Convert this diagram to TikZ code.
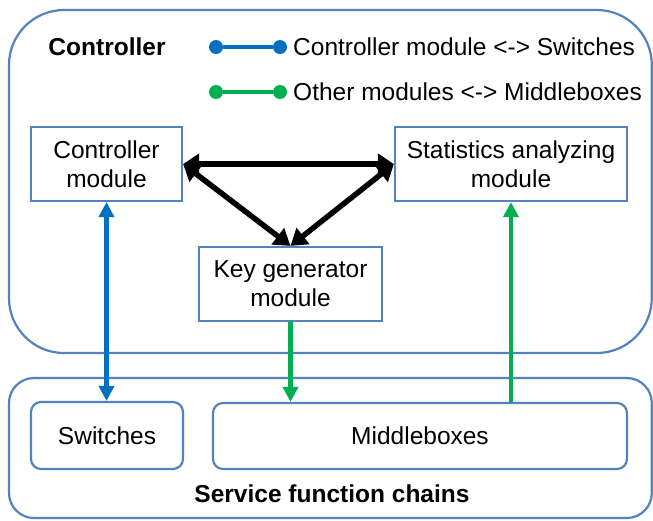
\documentclass[tikz,border=0pt]{standalone}
\usepackage{fontspec}
\setmainfont{Liberation Sans}
\usetikzlibrary{arrows.meta}
\definecolor{frameblue}{RGB}{84,130,190}
\definecolor{linkblue}{RGB}{0,112,192}
\definecolor{linkgreen}{RGB}{0,176,80}
\tikzset{
  txt/.style={font=\fontsize{24.5}{29}\selectfont, align=center, inner sep=0pt},
  module/.style={txt, draw=frameblue, line width=2.2pt, fill=white},
  group/.style={draw=frameblue, line width=2.2pt},
  device/.style={module, rounded corners=10pt},
  bluelink/.style={draw=linkblue, line width=4.5pt, -{Triangle[length=15pt,width=15pt]}},
  greenlink/.style={draw=linkgreen, line width=4.5pt, -{Triangle[length=15pt,width=15pt]}},
  blacklink/.style={draw=black, line width=5.5pt, {Triangle[length=16pt,width=20pt]}-{Triangle[length=16pt,width=20pt]}},
  legenddot/.style={circle, inner sep=0pt, minimum size=14pt},
}
\begin{document}
\begin{tikzpicture}[x=1pt, y=-1pt]
  \useasboundingbox (0,0) rectangle (653,520);

  % enclosing groups
  \draw[group, rounded corners=55pt] (9,10) rectangle (651.8,353);
  \draw[group, rounded corners=25pt] (9,378) rectangle (651.8,518);

  % group titles
  \node[txt, font=\fontsize{24.5}{29}\selectfont\bfseries] (ctitle) at (107,47) {Controller};
  \node[txt, font=\fontsize{24.5}{29}\selectfont\bfseries] (stitle) at (332,494) {Service function chains};

  % legend
  \node[legenddot, fill=linkblue] (lb1) at (216,47) {};
  \node[legenddot, fill=linkblue] (lb2) at (280,47) {};
  \draw[linkblue, line width=4.5pt] (lb1) -- (lb2);
  \node[txt, anchor=west] (lbt) at (293,47) {Controller module <-> Switches};
  \node[legenddot, fill=linkgreen] (lg1) at (216,92) {};
  \node[legenddot, fill=linkgreen] (lg2) at (280,92) {};
  \draw[linkgreen, line width=4.5pt] (lg1) -- (lg2);
  \node[txt, anchor=west] (lgt) at (293,92) {Other modules <-> Middleboxes};

  % modules
  \node[module, minimum width=151pt, minimum height=74pt] (ctrl) at (106.5,164) {Controller\\module};
  \node[module, minimum width=232pt, minimum height=74pt] (stats) at (511,164) {Statistics analyzing\\module};
  \node[module, minimum width=183pt, minimum height=74pt] (kg) at (290.5,284) {Key generator\\module};

  % devices
  \node[device, minimum width=152pt, minimum height=67pt] (sw) at (107,435.5) {Switches};
  \node[device, minimum width=414pt, minimum height=66pt] (mb) at (420,436) {Middleboxes};

  % links between modules
  \draw[blacklink] (ctrl.east) -- (stats.west);
  \draw[blacklink] (ctrl.east) -- (kg.north);
  \draw[blacklink] (stats.west) -- (kg.north);

  % links to the chains
  \draw[bluelink, {Triangle[length=15pt,width=15pt]}-{Triangle[length=15pt,width=15pt]}] (ctrl.south) -- (ctrl.south |- sw.north);
  \draw[greenlink] (kg.south) -- (kg.south |- mb.north);
  \draw[greenlink] (stats.south |- mb.north) -- (stats.south);
\end{tikzpicture}
\end{document}
